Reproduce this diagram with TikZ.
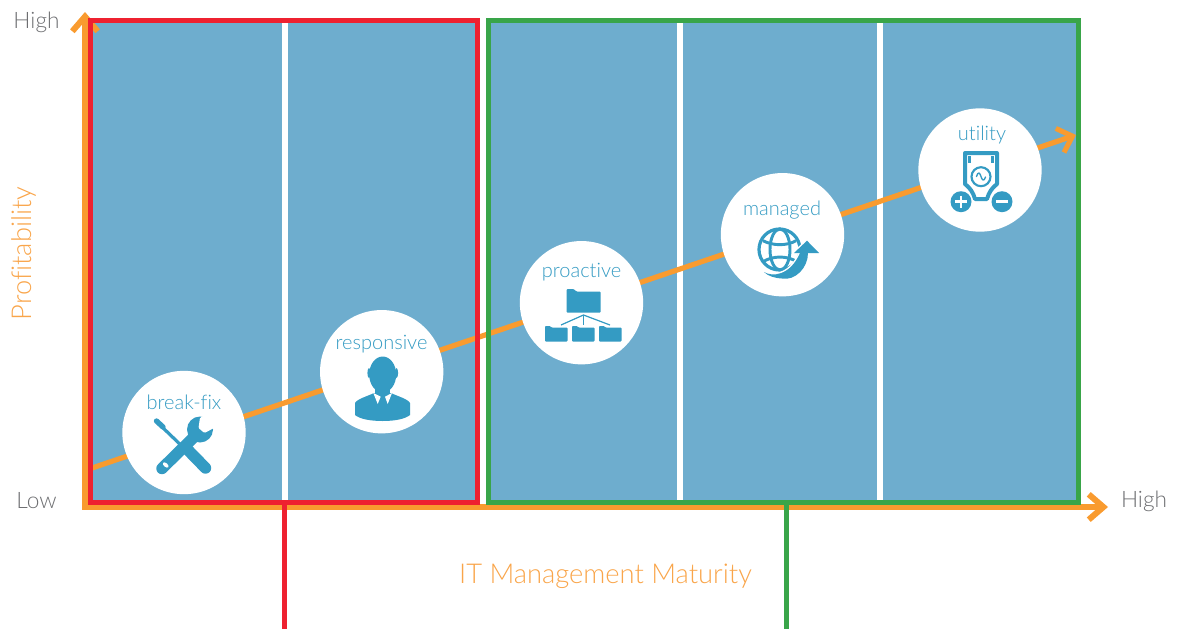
\documentclass[tikz,border=0pt]{standalone}
\usepackage{fontspec}
\usetikzlibrary{arrows.meta}
\setmainfont[Ligatures=NoCommon]{Lato Light}
\definecolor{panel}{HTML}{6EADCE}
\definecolor{axisor}{HTML}{F99B2F}
\definecolor{redb}{HTML}{EE2130}
\definecolor{greenb}{HTML}{39A549}
\definecolor{iconb}{HTML}{349BC3}
\definecolor{labelor}{HTML}{F9A54A}
\definecolor{greyt}{HTML}{6D6E71}
\tikzset{
  x=0.75pt,y=-0.75pt,
  panelfill/.style={fill=panel,draw=none},
  divider/.style={draw=white,line width=4.5pt},
  redframe/.style={draw=redb,line width=3.75pt},
  greenframe/.style={draw=greenb,line width=3.75pt},
  axisline/.style={draw=axisor,line width=4.5pt,-{Straight Barb[length=11pt,width=19pt,line width=4.5pt]}},
  trend/.style={draw=axisor,line width=3.9pt,-{Straight Barb[length=10pt,width=19pt,line width=3.8pt]}},
  stage/.style={circle,fill=white,draw=none,minimum size=92.5pt,inner sep=0pt},
  stagetext/.style={text=iconb,font=\fontsize{15}{17}\selectfont,inner sep=0pt},
  ticktext/.style={text=greyt,font=\fontsize{17}{19}\selectfont,inner sep=0pt},
  axistext/.style={text=labelor,font=\fontsize{20.5}{23}\selectfont,inner sep=0pt},
  ico/.style={fill=iconb,draw=none},
  icol/.style={draw=iconb,fill=none},
}
\begin{document}
\begin{tikzpicture}
\useasboundingbox (0,0) rectangle (1183,629);
% panels
\fill[panelfill] (90,22) rectangle (477,502);
\fill[panelfill] (488,22) rectangle (1078,502);
\draw[divider] (284.5,22) -- (284.5,502);
\draw[divider] (680,22) -- (680,502);
\draw[divider] (880,22) -- (880,502);
% axes
\coordinate (origin) at (85,507);
\coordinate (ytip) at (85,12);
\coordinate (xtip) at (1108,507);
\draw[axisline] (origin) -- (ytip);
\draw[axisline] (82,507) -- (xtip);
% trend
\coordinate (trendstart) at (90,468.7);
\coordinate (trendend) at (1076,135);
\draw[trend] (trendstart) -- (trendend);
% frames
\draw[redframe] (90,20.7) rectangle (477.5,502);
\draw[greenframe] (488.5,20.7) rectangle (1078,502);
\coordinate (redfoot) at (284.5,629);
\coordinate (redtop) at (284.5,503);
\coordinate (greenfoot) at (786,629);
\coordinate (greentop) at (786,503);
\draw[draw=redb,line width=3.75pt] (redtop) -- (redfoot);
\draw[draw=greenb,line width=3.75pt] (greentop) -- (greenfoot);
% stages
\node[stage] (s1) at (184,432.5) {};
\node[stage] (s2) at (381.7,371.7) {};
\node[stage] (s3) at (581.5,302.7) {};
\node[stage] (s4) at (782.5,234.7) {};
\node[stage] (s5) at (980,170) {};
\node[stagetext] (t1) at (184,402) {break-fix};
\node[stagetext] (t2) at (381.5,344) {responsive};
\node[stagetext] (t3) at (581.5,272) {proactive};
\node[stagetext] (t4) at (782,210) {managed};
\node[stagetext] (t5) at (982,135) {utility};
% icon 1: tools
\draw[iconb,line width=2.4pt] (160,425) -- (186,450);
\draw[iconb,line width=4pt,line cap=round] (156.5,421) -- (163,427);
\draw[iconb,line width=8.6pt,line cap=round] (186,448) -- (205.5,468);
\draw[iconb,line width=8.6pt,line cap=round] (162,468.5) -- (193,438);
\fill[ico] (200,429.5) circle (13);
\fill[white,rounded corners=0.8pt] (200,417.5) -- (198.5,428) -- (204.5,433) -- (214,428) -- (222,412) -- cycle;
\fill[white,rotate around={-40:(165.7,465)}] (165.7,465) ellipse (3.4 and 1.9);
% icon 2: person
\fill[ico] (382.7,374.5) ellipse (13.5 and 18);
\fill[ico] (369,373) ellipse (1.6 and 5);
\fill[ico] (396.5,373) ellipse (1.6 and 5);
\fill[ico] (375,385) rectangle (390,396);
\fill[ico] (355,403) .. controls (357,399) and (368,396) .. (374,393) -- (391,393) .. controls (397,396) and (408,399) .. (410,403)
  -- (410,415) .. controls (405,419) and (395,421) .. (382.7,421) .. controls (370,421) and (360,419) .. (355,415) -- cycle;
\fill[white] (373.3,393) -- (380.7,396.7) -- (377.7,404) -- cycle;
\fill[white] (392,393) -- (385,396.7) -- (387.7,404) -- cycle;
% icon 3: folders
\fill[ico,rounded corners=0.8pt] (566.5,289) -- (574,289) -- (576,291.5) -- (600.7,291.5) -- (600.7,312.7) -- (566.5,312.7) -- cycle;
\foreach \fx in {545,572,599}{
  \fill[ico,rounded corners=0.6pt] (\fx,326) -- (\fx+5,326) -- (\fx+6.5,327.5) -- (\fx+22.5,327.5) -- (\fx+22.5,341.5) -- (\fx,341.5) -- cycle;
}
\draw[iconb,line width=0.9pt] (561,325) -- (583.5,315) -- (610,325);
\draw[iconb,line width=0.9pt] (583.5,315) -- (583.5,325);
% icon 4: globe
\draw[icol,line width=2.4pt] (779.5,249.5) circle (20.5);
\draw[icol,line width=2.2pt] (780,249.5) ellipse (10 and 20.5);
\draw[icol,line width=2.2pt] (763,240.7) .. controls (773,246) and (787,246) .. (796,240.7);
\draw[icol,line width=2.2pt] (763,261.7) .. controls (773,255.5) and (787,255.5) .. (797,261.7);
\path[fill=white,draw=white,line width=2.2pt,line join=round] (764,272) .. controls (772,277) and (790,276) .. (800,253) -- (794,253) -- (807,240.7) -- (819,253) -- (808,253) .. controls (808,268) and (795,281) .. (782,278.5) .. controls (774,278) and (768,276) .. (764,272) -- cycle;
\fill[ico] (764,272) .. controls (772,277) and (790,276) .. (800,253) -- (794,253) -- (807,240.7) -- (819,253) -- (808,253) .. controls (808,268) and (795,281) .. (782,278.5) .. controls (774,278) and (768,276) .. (764,272) -- cycle;
% icon 5: utility
\draw[icol,line width=3pt,line join=round] (965,184) -- (965,153) -- (997,153) -- (997,184)
  .. controls (992,188) and (989,192) .. (987,199) -- (975,199) .. controls (973,192) and (970,188) .. (965,184) -- cycle;
\fill[ico] (968.3,156) rectangle (971,163);
\fill[ico] (991,156) rectangle (993.7,163);
\draw[icol,line width=1.6pt] (981,176.7) circle (9.5);
\draw[icol,line width=1pt,line cap=round] (976.5,176.5) .. controls (978,171) and (980,173) .. (981,176.5) .. controls (982,180) and (984,182) .. (985.5,177);
\fill[ico] (961,201.7) circle (10.5);
\fill[ico] (1002,201.7) circle (10.5);
\draw[white,line width=2.2pt] (955,201.7) -- (967,201.7);
\draw[white,line width=2.2pt] (961,195.7) -- (961,207.7);
\draw[white,line width=2.2pt] (996,201.7) -- (1008,201.7);
% labels
\node[ticktext] (yhigh) at (36.5,22) {High};
\node[ticktext] (ylow) at (36.5,500.5) {Low};
\node[ticktext] (xhigh) at (1144,501) {High};
\node[axistext] (xlabel) at (605.5,576) {IT Management Maturity};
\node[axistext,rotate=90] (ylabel) at (23.5,253.5) {Profitability};
\end{tikzpicture}
\end{document}
